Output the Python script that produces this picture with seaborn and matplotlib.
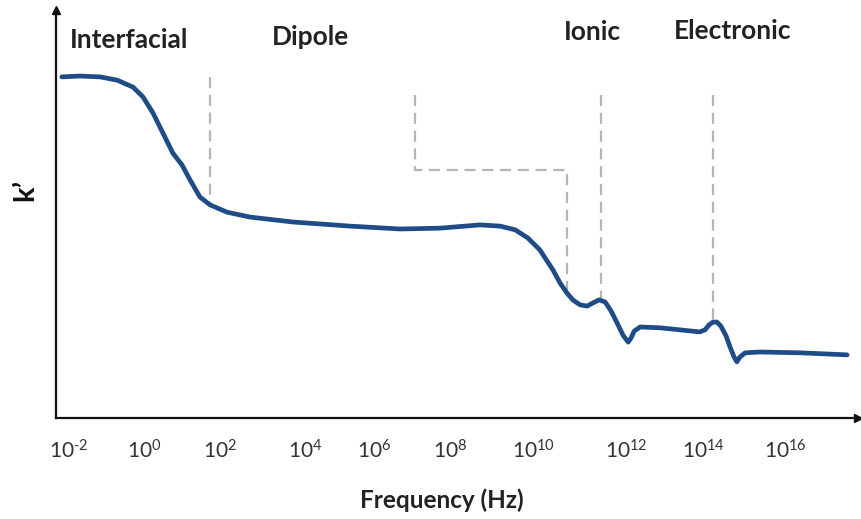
import numpy as np
import pandas as pd
import seaborn as sns
import matplotlib
matplotlib.use("Agg")
import matplotlib.pyplot as plt

# ---- data ----
# x: position on the log-frequency axis (decades), y: k' in arbitrary units
log_freq = [-2.18, -1.72, -1.22, -0.79, -0.39, -0.14, 0.11, 0.36, 0.61, 0.84,
            1.04, 1.29, 1.54, 1.97, 2.55, 3.63, 5.06, 6.32, 7.32, 8.33,
            8.83, 9.21, 9.53, 9.83, 10.16, 10.34, 10.51, 10.66, 10.84, 11.02,
            11.17, 11.32, 11.47, 11.62, 11.77, 11.92, 12.05, 12.12, 12.20, 12.35,
            12.85, 13.35, 13.85, 13.98, 14.08, 14.18, 14.28, 14.38, 14.51, 14.61,
            14.71, 14.78, 14.86, 14.99, 15.36, 16.37, 17.55]
k_prime = [83.2, 83.4, 83.2, 82.4, 80.7, 78.3, 74.4, 69.5, 64.6, 61.7,
           58.1, 53.9, 52.0, 50.2, 49.0, 47.8, 46.8, 46.1, 46.3, 47.1,
           46.8, 45.9, 43.9, 41.0, 36.1, 32.9, 30.5, 28.8, 27.6, 27.3,
           28.1, 28.8, 28.3, 26.1, 23.2, 20.2, 18.5, 19.5, 21.2, 22.2,
           22.0, 21.5, 21.0, 21.5, 22.7, 23.4, 23.4, 22.4, 20.0, 17.3,
           14.9, 13.7, 14.9, 15.9, 16.1, 15.9, 15.4]

tick_pos = [-2.0, -0.12, 1.79, 3.93, 5.66, 7.57, 9.66, 12.0, 13.93, 16.0]
tick_exp = ["\\text{-}2", "0", "2", "4", "6", "8", "10", "12", "14", "16"]

region_labels = ["Interfacial", "Dipole", "Ionic", "Electronic"]
region_x = [-0.49, 4.06, 11.14, 14.68]
region_y = [92.2, 92.9, 94.1, 94.4]

# dashed guide lines (x list, y list)
guides = [
    ([1.54, 1.54], [83.2, 52.0]),
    ([6.69, 6.69, 10.51, 10.51], [78.8, 60.5, 60.5, 30.5]),
    ([11.37, 11.37], [78.8, 28.5]),
    ([14.18, 14.18], [78.8, 23.9]),
]

df = pd.DataFrame({"logf": log_freq, "k": k_prime})

sns.set_theme(style="white")
plt.rcParams["font.family"] = ["Lato", "DejaVu Sans"]
plt.rcParams["mathtext.fontset"] = "custom"
plt.rcParams["mathtext.rm"] = "Lato"
plt.rcParams["mathtext.it"] = "Lato:italic"
plt.rcParams["mathtext.bf"] = "Lato:bold"

W, H = 862, 519
fig = plt.figure(figsize=(W / 100, H / 100), dpi=100)
left_px, right_px, top_px, bot_px = 56, 858, 10, 418
ax = fig.add_axes([left_px / W, 1 - bot_px / H, (right_px - left_px) / W, (bot_px - top_px) / H])

x0 = -2.0 - (69 - left_px) / 39.8
x1 = -2.0 + (right_px - 69) / 39.8
ax.set_xlim(x0, x1)
ax.set_ylim(0, (bot_px - top_px) / 4.1)

for gx, gy in guides:
    ax.plot(gx, gy, color="#b5b5b5", lw=1.6, ls=(0, (5, 3)), zorder=1)

sns.lineplot(data=df, x="logf", y="k", ax=ax, color="#1f4c87", lw=3.4,
             solid_capstyle="round", solid_joinstyle="round", zorder=3, sort=False)

for lab, rx, ry in zip(region_labels, region_x, region_y):
    ax.text(rx, ry, lab, ha="center", va="center", fontsize=19,
            fontweight="bold", color="#222222")

ax.set_xticks(tick_pos)
ax.set_xticklabels([r"$\mathregular{10^{%s}}$" % e for e in tick_exp],
                   fontsize=15, color="#333333")
ax.tick_params(axis="x", length=0, pad=15)
ax.set_yticks([])
ax.set_xlabel("")
ax.set_ylabel("")

for s in ["top", "right"]:
    ax.spines[s].set_visible(False)
for s in ["left", "bottom"]:
    ax.spines[s].set_color("#111111")
    ax.spines[s].set_linewidth(1.6)

# arrow heads on axes
ax.plot(1, 0, marker=">", color="#111111", ms=6, transform=ax.transAxes, clip_on=False)
ax.plot(0, 1, marker="^", color="#111111", ms=6, transform=ax.transAxes, clip_on=False)

fig.text(442 / W, 1 - 500 / H, "Frequency (Hz)", ha="center", va="center",
         fontsize=17.5, fontweight="bold", color="#222222")
fig.text(25 / W, 1 - 190 / H, "k\u2019", ha="center", va="center", rotation=90,
         fontsize=21, fontweight="bold", color="#111111")

fig.savefig("out.png", dpi=100)
